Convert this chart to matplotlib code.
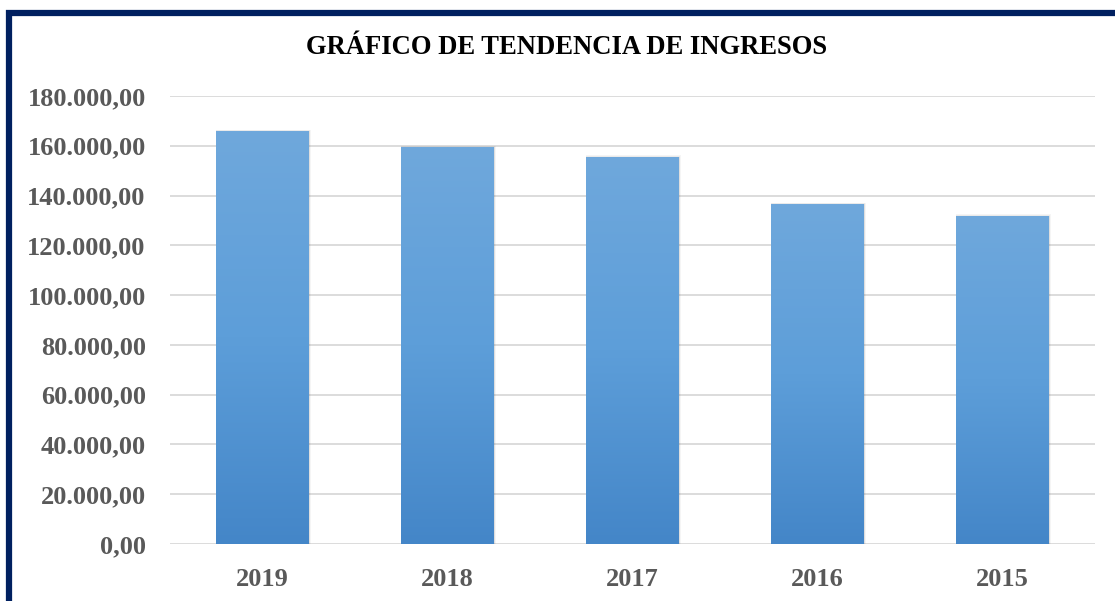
import numpy as np
import matplotlib
matplotlib.use("Agg")
import matplotlib.pyplot as plt
from matplotlib.patches import Rectangle
from matplotlib.colors import LinearSegmentedColormap

# Data
years = ["2019", "2018", "2017", "2016", "2015"]
ingresos = [165900, 159500, 155500, 136600, 131800]
yticks = [0, 20000, 40000, 60000, 80000, 100000, 120000, 140000, 160000, 180000]
title = "GRÁFICO DE TENDENCIA DE INGRESOS"

W, H = 1115, 601
fig = plt.figure(figsize=(W / 100, H / 100), dpi=100)
fig.patch.set_facecolor("white")

# axes placement in pixels
x0, x1 = 170, 1095
y0, y1 = 544, 96
ax = fig.add_axes([x0 / W, 1 - y0 / H, (x1 - x0) / W, (y0 - y1) / H])
ax.set_xlim(-0.5, len(years) - 0.5)
ax.set_ylim(0, 180000)

serif = ["Liberation Serif", "DejaVu Serif"]

def fmt(v):
    s = f"{v:,.2f}"
    return s.replace(",", "X").replace(".", ",").replace("X", ".")

ax.set_yticks(yticks)
ax.set_yticklabels([fmt(v) for v in yticks], fontfamily=serif, fontsize=19,
                   fontweight="bold", color="#595959")
ax.set_xticks(range(len(years)))
ax.set_xticklabels(years, fontfamily=serif, fontsize=19, fontweight="bold", color="#595959")
ax.tick_params(axis="both", length=0)
ax.tick_params(axis="y", pad=17.5)
ax.tick_params(axis="x", pad=17)
for s in ax.spines.values():
    s.set_visible(False)
ax.grid(axis="y", color="#d9d9d9", linewidth=1.3)
ax.set_axisbelow(True)

cmap = LinearSegmentedColormap.from_list("g", ["#4486c8", "#5d9ed9", "#6fa8dc"])
grad = np.linspace(0, 1, 256).reshape(-1, 1)
bw = 0.5
for i, v in enumerate(ingresos):
    # soft grey shadow
    for k, a in zip([4.0, 3.0, 2.0, 1.0], [0.05, 0.06, 0.07, 0.08]):
        dx = 0.011 * k / 4
        sh = Rectangle((i - bw / 2 - dx / 3, 0), bw + dx * 1.4, v + 300 * (k - 2),
                       facecolor="#404040", alpha=a, edgecolor="none", zorder=2)
        ax.add_patch(sh)
    r = Rectangle((i - bw / 2, 0), bw, v, facecolor="none", edgecolor="none", zorder=3)
    ax.add_patch(r)
    im = ax.imshow(grad, cmap=cmap, aspect="auto", origin="lower",
                   extent=(i - bw / 2, i + bw / 2, 0, v), zorder=3)
    im.set_clip_path(r)
ax.set_xlim(-0.5, len(years) - 0.5)
ax.set_ylim(0, 180000)

fig.text(567 / W, 1 - 48 / H, title, ha="center", va="center", fontfamily=serif,
         fontsize=19.2, fontweight="bold", color="black")

# navy border (left and top visible)
fig.add_artist(Rectangle((9 / W, -0.1), 1.2, 1 - 13 / H + 0.1, transform=fig.transFigure,
                         facecolor="none", edgecolor="#002060", linewidth=4.5))

fig.savefig("out.png", dpi=100)
